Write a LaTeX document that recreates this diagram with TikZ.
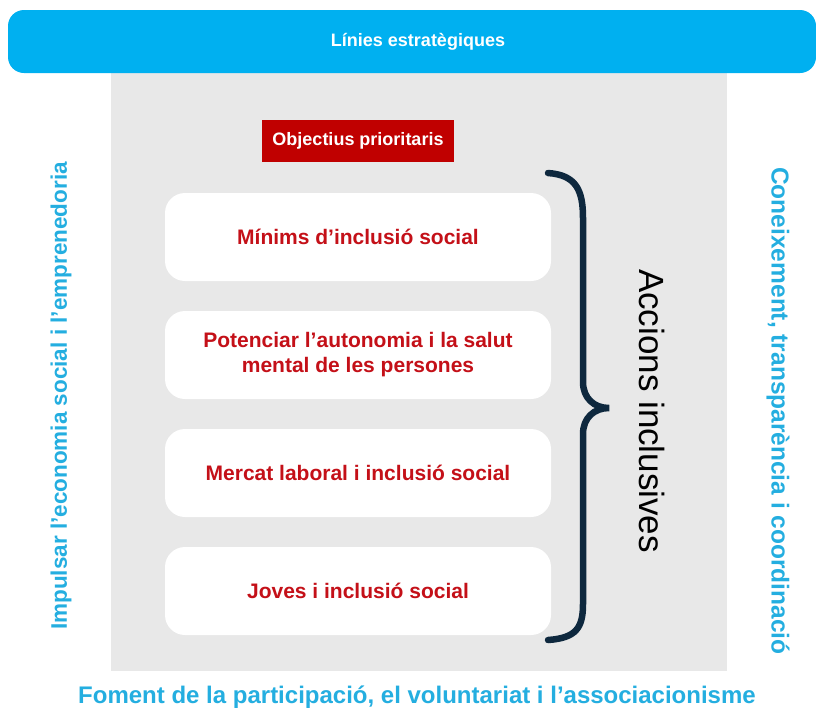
\documentclass[tikz,border=0pt]{standalone}
\usepackage{fontspec}
\setmainfont{Liberation Sans}
\definecolor{barblue}{RGB}{0,176,240}
\definecolor{sideblue}{RGB}{36,174,224}
\definecolor{boxred}{RGB}{192,0,0}
\definecolor{txtred}{RGB}{196,16,24}
\definecolor{panelgray}{RGB}{232,232,232}
\definecolor{bracenavy}{RGB}{14,40,62}
\tikzset{
  panel/.style={fill=panelgray, draw=none},
  topbar/.style={fill=barblue, draw=none, rounded corners=16pt},
  redtag/.style={fill=boxred, draw=none, text=white, font=\fontsize{18}{21}\selectfont\bfseries, inner sep=0pt, minimum width=192pt, minimum height=42pt},
  objbox/.style={fill=white, draw=none, rounded corners=20pt, minimum width=386pt, minimum height=88pt, inner sep=0pt, text=txtred, align=center, font=\fontsize{21}{25}\selectfont\bfseries},
  sidetxt/.style={text=sideblue, font=\fontsize{24}{28}\selectfont\bfseries, inner sep=0pt},
  bracestyle/.style={draw=bracenavy, line width=6.5pt, line cap=round}
}
\begin{document}
\begin{tikzpicture}[x=1pt,y=-1pt]
\useasboundingbox (0,0) rectangle (816,716);
\fill[white] (0,0) rectangle (816,716);
% gray panel
\path[panel] (111,60) rectangle (727,671);
% top bar
\path[topbar] (8,10) rectangle (816,73);
\node[text=white, font=\fontsize{18}{20}\selectfont\bfseries, inner sep=0pt] (title) at (418,42) {Línies estratègiques};
% red tag
\node[redtag] (obj) at (358,141) {Objectius prioritaris};
% boxes
\node[objbox] (b1) at (358,237) {Mínims d’inclusió social};
\node[objbox] (b2) at (358,355) {Potenciar l’autonomia i la salut\\mental de les persones};
\node[objbox] (b3) at (358,473) {Mercat laboral i inclusió social};
\node[objbox] (b4) at (358,591) {Joves i inclusió social};
% brace
\draw[bracestyle] (548,173) .. controls (576,175) and (583,190) .. (583,218) -- (583,382) .. controls (583,398) and (594,408) .. (609,408) .. controls (594,408) and (583,418) .. (583,434) -- (583,604) .. controls (583,628) and (576,638) .. (548,640);
\node[rotate=-90, font=\fontsize{35}{40}\selectfont, inner sep=0pt] (acc) at (652,411) {Accions inclusives};
% side texts
\node[sidetxt, rotate=-90, font=\fontsize{24.5}{28}\selectfont\bfseries] (right) at (778,411) {Coneixement, transparència i coordinació};
\node[sidetxt, rotate=90, font=\fontsize{22.5}{28}\selectfont\bfseries] (left) at (61,396) {Impulsar l'economia social i l’emprenedoria};
\node[sidetxt] (bottom) at (417,697) {Foment de la participació, el voluntariat i l’associacionisme};
\end{tikzpicture}
\end{document}
